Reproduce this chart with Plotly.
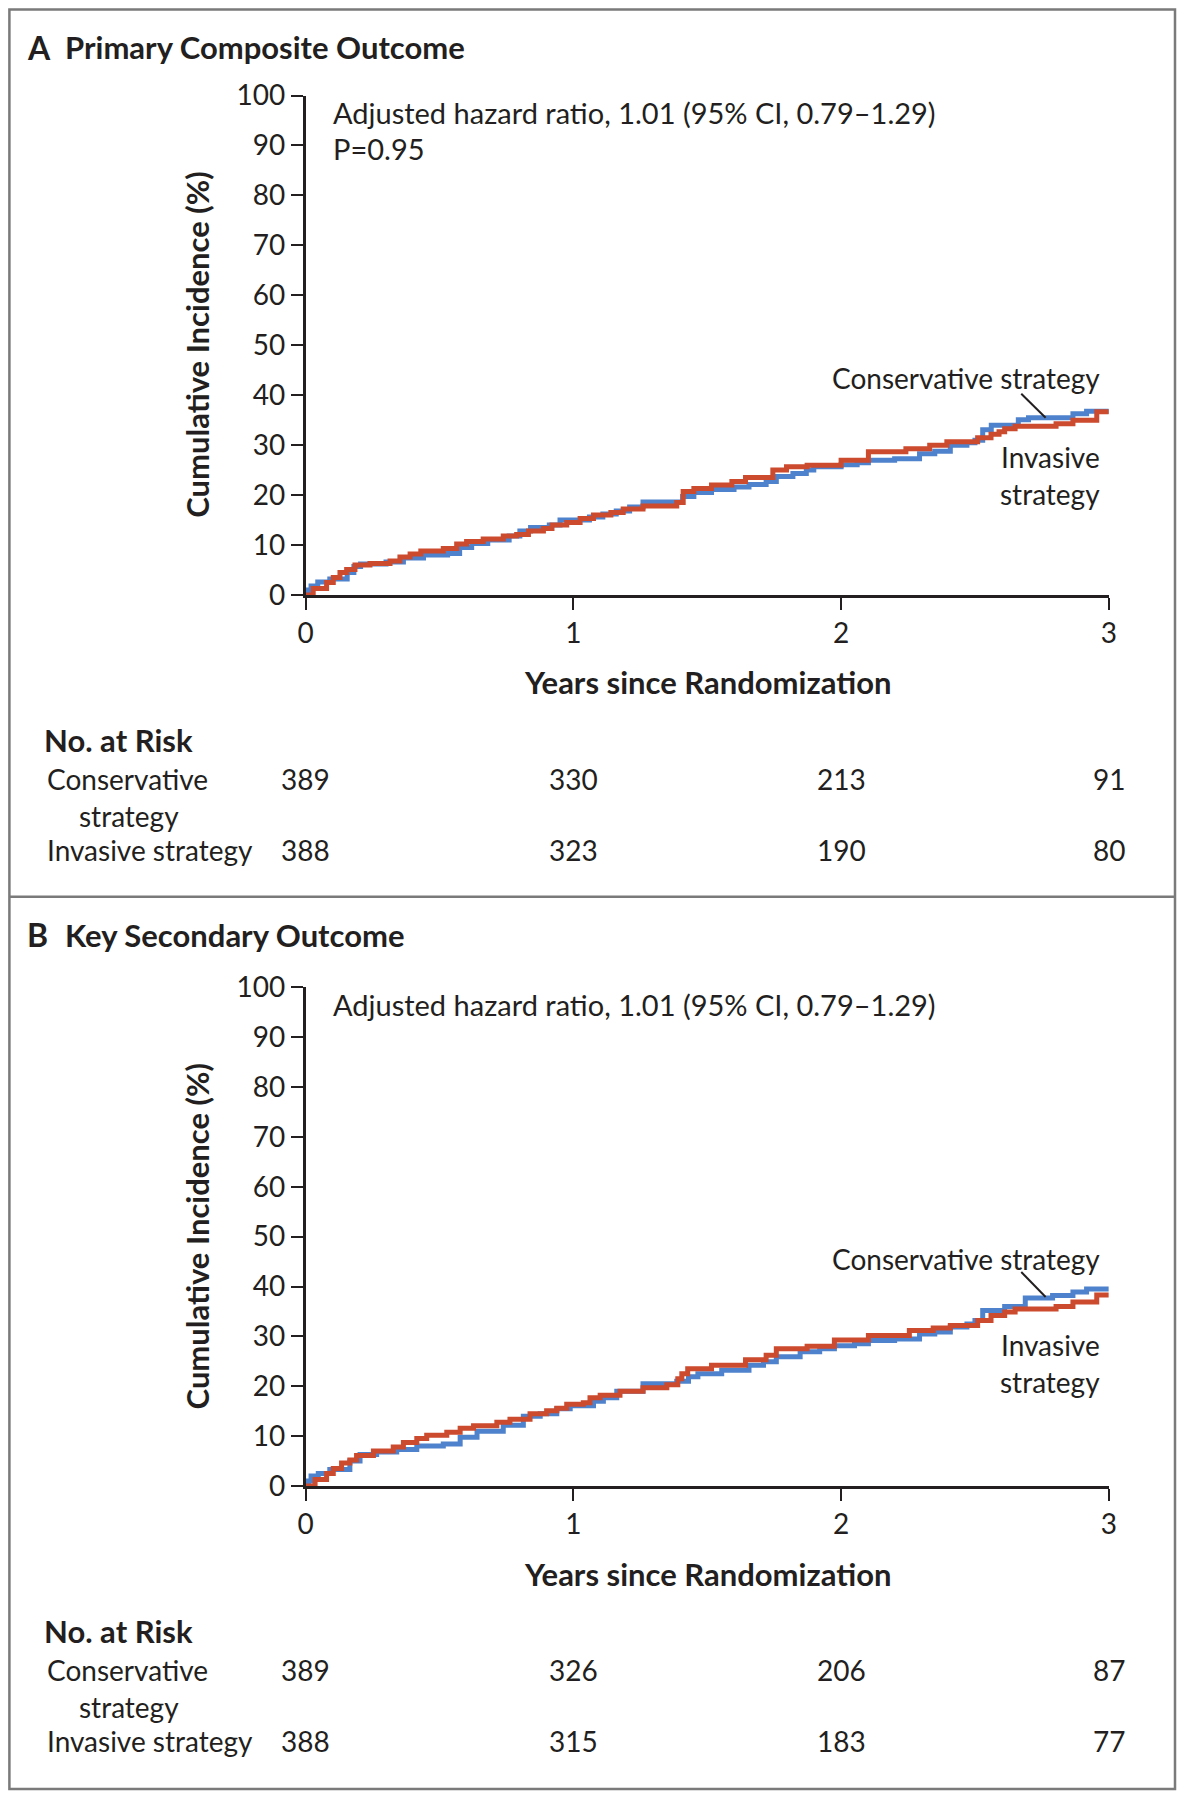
import plotly.graph_objects as go

# ---------------- data ----------------
x_ticks = [0, 1, 2, 3]
y_ticks = list(range(0, 101, 10))

# Panel A: Primary composite outcome (cumulative incidence, %)
a_cons_t = [0, 0.01, 0.02, 0.045, 0.09, 0.155, 0.18, 0.205, 0.30, 0.365, 0.44, 0.53, 0.575, 0.62,
            0.68, 0.76, 0.80, 0.84, 0.91, 0.95, 1.06, 1.11, 1.16, 1.21, 1.26, 1.408, 1.45, 1.516,
            1.60, 1.656, 1.72, 1.758, 1.82, 1.87, 1.898, 2.0, 2.06, 2.102, 2.20, 2.293, 2.35,
            2.408, 2.47, 2.50, 2.529, 2.561, 2.662, 2.70, 2.866, 2.917, 3.0]
a_cons_v = [0, 1.0, 1.8, 2.6, 3.2, 4.5, 5.7, 6.2, 6.6, 7.4, 8.0, 8.3, 9.5, 10.3,
            11.0, 11.8, 12.8, 13.5, 14.0, 15.0, 15.6, 16.2, 16.8, 17.6, 18.6, 19.7, 20.5, 21.1,
            21.6, 22.1, 22.7, 23.7, 24.3, 25.0, 25.7, 26.1, 26.5, 27.0, 27.3, 28.3, 28.8,
            30.0, 30.5, 31.0, 33.1, 34.0, 35.1, 35.5, 36.3, 36.8, 36.8]
a_inv_t = [0, 0.028, 0.078, 0.103, 0.128, 0.153, 0.184, 0.24, 0.315, 0.352, 0.39, 0.43, 0.514,
           0.564, 0.601, 0.663, 0.738, 0.788, 0.832, 0.888, 0.92, 0.975, 1.025, 1.075, 1.14,
           1.186, 1.26, 1.386, 1.41, 1.45, 1.516, 1.592, 1.643, 1.745, 1.796, 1.873, 2.0,
           2.102, 2.242, 2.331, 2.395, 2.51, 2.56, 2.59, 2.611, 2.65, 2.803, 2.866, 2.955, 3.0]
a_inv_v = [0, 1.3, 2.5, 3.5, 4.5, 5.1, 6.0, 6.3, 6.8, 7.6, 8.2, 8.8, 9.3,
           10.2, 10.7, 11.2, 11.8, 12.1, 12.8, 13.3, 14.0, 14.5, 15.3, 16.0, 16.5,
           17.2, 17.8, 18.5, 20.7, 21.3, 22.0, 22.7, 23.5, 25.0, 25.7, 26.0, 27.0,
           28.7, 29.3, 30.0, 30.7, 31.5, 32.2, 32.7, 33.3, 33.8, 34.3, 35.0, 36.7, 36.7]

# Panel B: Key secondary outcome
b_cons_t = [0, 0.01, 0.02, 0.047, 0.09, 0.165, 0.203, 0.265, 0.34, 0.415, 0.514, 0.577, 0.64,
            0.738, 0.813, 0.876, 0.938, 0.988, 1.075, 1.112, 1.162, 1.26, 1.386, 1.43, 1.465,
            1.554, 1.656, 1.71, 1.758, 1.847, 1.92, 1.975, 2.05, 2.102, 2.20, 2.293, 2.35,
            2.408, 2.47, 2.50, 2.529, 2.611, 2.688, 2.79, 2.866, 2.917, 3.0]
b_cons_v = [0, 1.0, 2.0, 2.5, 3.3, 5.0, 6.3, 6.8, 7.3, 8.0, 8.4, 9.8, 11.0,
            12.2, 14.0, 14.5, 15.5, 16.1, 17.0, 17.7, 19.0, 20.5, 21.0, 21.9, 22.5,
            23.2, 24.2, 24.9, 25.9, 26.9, 27.5, 28.1, 28.5, 29.2, 29.5, 30.5, 30.9,
            31.9, 32.5, 33.2, 35.2, 36.0, 37.7, 38.2, 38.9, 39.5, 39.5]
b_inv_t = [0, 0.035, 0.078, 0.103, 0.134, 0.165, 0.19, 0.253, 0.327, 0.365, 0.415, 0.452,
           0.527, 0.577, 0.627, 0.714, 0.763, 0.838, 0.9, 0.938, 0.975, 1.037, 1.062, 1.10,
           1.174, 1.26, 1.349, 1.39, 1.405, 1.427, 1.516, 1.643, 1.72, 1.758, 1.873, 1.975,
           2.102, 2.255, 2.344, 2.408, 2.51, 2.56, 2.611, 2.65, 2.803, 2.866, 2.955, 3.0]
b_inv_v = [0, 1.3, 2.5, 3.5, 4.6, 5.2, 6.1, 7.0, 7.8, 8.7, 9.5, 10.2,
           10.8, 11.6, 12.1, 12.8, 13.4, 14.5, 15.1, 15.6, 16.4, 16.7, 17.7, 18.2,
           19.0, 19.7, 20.3, 21.5, 22.5, 23.5, 24.2, 25.3, 26.2, 27.5, 28.0, 29.3,
           30.2, 31.2, 31.7, 32.2, 33.2, 34.2, 34.9, 35.5, 36.0, 36.9, 38.3, 38.3]

risk_years = [0, 1, 2, 3]
a_risk_cons = [389, 330, 213, 91]
a_risk_inv = [388, 323, 190, 80]
b_risk_cons = [389, 326, 206, 87]
b_risk_inv = [388, 315, 183, 77]

panel_titles = ["Primary Composite Outcome", "Key Secondary Outcome"]
panel_letters = ["A", "B"]
hr_text = "Adjusted hazard ratio, 1.01 (95% CI, 0.79\u20131.29)"
p_text = "P=0.95"

# ---------------- style ----------------
W, H = 1185, 1800
OFF = 8.0    # page offset of the plot div (browser body margin)
FONT = "Lato"
INK = "#231f20"
BLUE = "#4f82cc"
RED = "#cc4a2e"
BORDER = "#7a7a7a"
FS = 28      # regular text size
FSB = 31     # bold titles

def fx(px):
    return (px - OFF) / W

def fy(py):
    return 1 - (py - OFF) / H

X_DOM = [fx(305.7), fx(1108.8)]
Y_DOM = [[fy(595.0), fy(95.5)], [fy(1486.0), fy(987.3)]]

fig = go.Figure()

curves = [(a_cons_t, a_cons_v, a_inv_t, a_inv_v), (b_cons_t, b_cons_v, b_inv_t, b_inv_v)]
for i, (ct, cv, it, iv) in enumerate(curves):
    xa = "x" if i == 0 else "x2"
    ya = "y" if i == 0 else "y2"
    fig.add_trace(go.Scatter(x=ct, y=cv, mode="lines", line=dict(color=BLUE, width=5, shape="hv"),
                             xaxis=xa, yaxis=ya, showlegend=False, hoverinfo="skip"))
    fig.add_trace(go.Scatter(x=it, y=iv, mode="lines", line=dict(color=RED, width=5, shape="hv"),
                             xaxis=xa, yaxis=ya, showlegend=False, hoverinfo="skip"))

axis_common = dict(showline=True, linecolor=INK, linewidth=2.5, ticks="outside", ticklen=12,
                   tickwidth=2, tickcolor=INK, showgrid=False, zeroline=False, automargin=False,
                   tickfont=dict(family=FONT, size=FS, color=INK), fixedrange=True)

fig.update_layout(
    width=W, height=H, autosize=False,
    margin=dict(l=0, r=0, t=0, b=0, pad=0, autoexpand=False),
    paper_bgcolor="white", plot_bgcolor="white",
    xaxis=dict(domain=X_DOM, range=[0, 3], tickvals=x_ticks, anchor="y", **axis_common),
    yaxis=dict(domain=Y_DOM[0], range=[0, 100], tickvals=y_ticks, anchor="x", **axis_common),
    xaxis2=dict(domain=X_DOM, range=[0, 3], tickvals=x_ticks, anchor="y2", **axis_common),
    yaxis2=dict(domain=Y_DOM[1], range=[0, 100], tickvals=y_ticks, anchor="x2", **axis_common),
)

ann = []
shapes = []

def txt(text, x, y, size=FS, bold=False, xanchor="left", xref="paper", yref="paper", angle=0):
    t = f"<b>{text}</b>" if bold else text
    ann.append(dict(text=t, x=x, y=y, xref=xref, yref=yref, xanchor=xanchor, yanchor="middle",
                    showarrow=False, textangle=angle,
                    font=dict(family=FONT, size=size, color=INK)))

panel_offsets = [0.0, 891.0]  # vertical pixel offset of panel B relative to panel A
risk_sets = [(a_risk_cons, a_risk_inv), (b_risk_cons, b_risk_inv)]
label_pos = [(43.4, 27.6, 20.2), (45.6, 28.2, 20.9)]
leader = [((2.673, 40.3), (2.764, 35.5)), ((2.673, 42.9), (2.764, 37.9))]

for i in range(2):
    off = panel_offsets[i]
    xr = "x" if i == 0 else "x2"
    yr = "y" if i == 0 else "y2"
    # panel title
    title_y = 47.0 if i == 0 else 934.7
    txt(panel_letters[i], fx(25), fy(title_y), size=FSB + 1, bold=True)
    txt(panel_titles[i], fx(63), fy(title_y), size=FSB, bold=True)
    # y-axis title
    ycen = 345.0 if i == 0 else 1236.7
    txt("Cumulative Incidence (%)", fx(196.7), fy(ycen), size=FSB, bold=True, xanchor="center", angle=-90)
    # x-axis title
    xt_y = 682.0 if i == 0 else 1574.0
    txt("Years since Randomization", fx(707.2), fy(xt_y), size=FSB, bold=True, xanchor="center")
    # hazard ratio text
    txt(hr_text, 0.093, 96.6, size=29, xref=xr, yref=yr)
    if i == 0:
        txt(p_text, 0.093, 89.4, size=29, xref=xr, yref=yr)
    # curve labels
    cy, iy, sy = label_pos[i]
    txt("Conservative strategy", 2.975, cy, xanchor="right", xref=xr, yref=yr)
    txt("Invasive", 2.975, iy, xanchor="right", xref=xr, yref=yr)
    txt("strategy", 2.975, sy, xanchor="right", xref=xr, yref=yr)
    (lx0, ly0), (lx1, ly1) = leader[i]
    shapes.append(dict(type="line", xref=xr, yref=yr, x0=lx0, y0=ly0, x1=lx1, y1=ly1,
                       line=dict(color=INK, width=2)))
    # risk table
    r_head = 739.5 + off
    r_c = 778.5 + off
    r_s = 816.4 + off
    r_i = 849.7 + off
    txt("No. at Risk", fx(42), fy(r_head), size=FSB, bold=True)
    txt("Conservative", fx(45), fy(r_c))
    txt("strategy", fx(76.7), fy(r_s))
    txt("Invasive strategy", fx(45), fy(r_i))
    rc, ri = risk_sets[i]
    for yr_, n1, n2 in zip(risk_years, rc, ri):
        ann.append(dict(text=str(n1), x=yr_, y=fy(r_c), xref=xr, yref="paper", xanchor="center",
                        yanchor="middle", showarrow=False, font=dict(family=FONT, size=FS, color=INK)))
        ann.append(dict(text=str(n2), x=yr_, y=fy(r_i), xref=xr, yref="paper", xanchor="center",
                        yanchor="middle", showarrow=False, font=dict(family=FONT, size=FS, color=INK)))

# borders (kept just inside the drawable area)
bl, bt = max(fx(6.5), 1.4 / W), min(fy(7.5), 1 - 1.4 / H)
shapes.append(dict(type="rect", xref="paper", yref="paper", x0=bl, x1=fx(1175), y0=fy(1789), y1=bt,
                   line=dict(color=BORDER, width=2.5), fillcolor="rgba(0,0,0,0)", layer="below"))
shapes.append(dict(type="line", xref="paper", yref="paper", x0=bl, x1=fx(1175), y0=fy(896.7), y1=fy(896.7),
                   line=dict(color=BORDER, width=2.5)))

fig.update_layout(annotations=ann, shapes=shapes)
fig.write_html("out.html", config={"responsive": False})
